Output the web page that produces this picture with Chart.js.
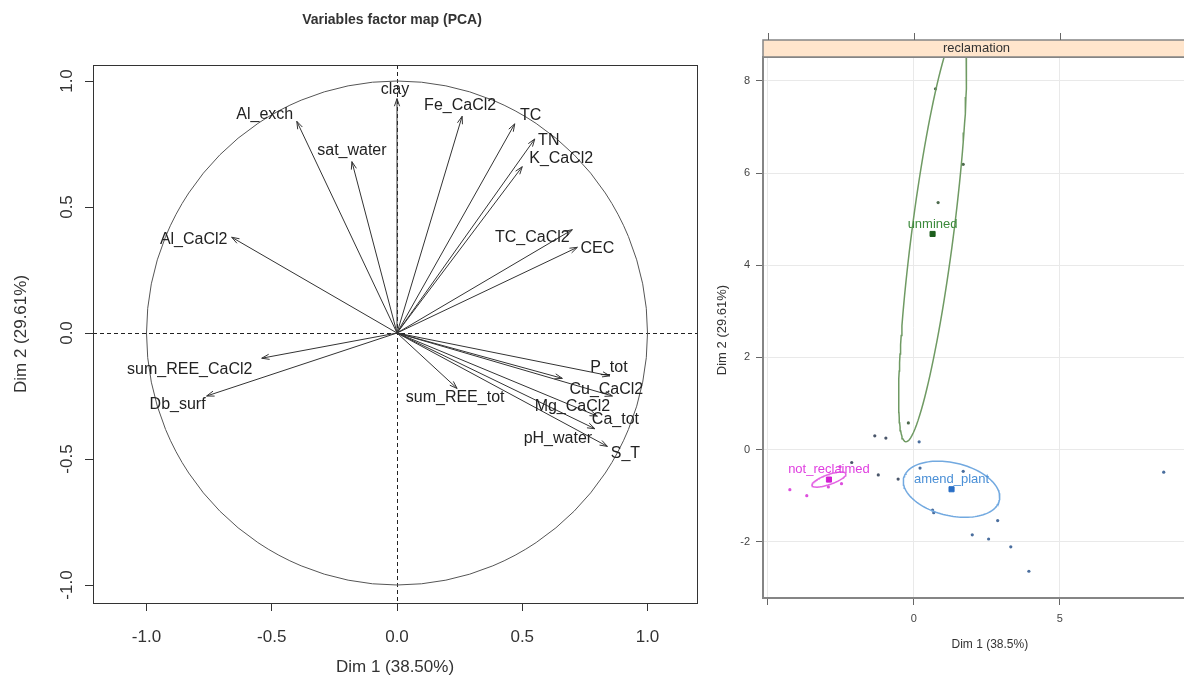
<!DOCTYPE html>
<html><head><meta charset="utf-8">
<script src="https://cdn.jsdelivr.net/npm/chart.js@4/dist/chart.umd.min.js"></script>
<style>
html,body{margin:0;padding:0;background:#fff;overflow:hidden;width:1184px;height:689px}
#wrap{position:relative;width:1184px;height:689px;overflow:hidden;background:#fff}
#c1{position:absolute;left:0;top:0}
#c2{position:absolute;left:700px;top:0}
</style></head><body>
<div id="wrap"><canvas id="c1" width="740" height="689"></canvas><canvas id="c2" width="520" height="689"></canvas></div>
<script>
// ===== Left panel: Variables factor map (PCA) =====
const pcaTitle = 'Variables factor map (PCA)';
const pcaXTitle = 'Dim 1 (38.50%)';
const pcaYTitle = 'Dim 2 (29.61%)';
const varNames = ['clay','Al_exch','sat_water','Fe_CaCl2','TC','TN','K_CaCl2','TC_CaCl2','CEC',
  'Al_CaCl2','sum_REE_CaCl2','Db_surf','sum_REE_tot','P_tot','Cu_CaCl2','Mg_CaCl2','Ca_tot','pH_water','S_T'];
const varDim1 = [0.00,-0.40,-0.18,0.26,0.47,0.55,0.50,0.70,0.72,
  -0.66,-0.54,-0.76,0.24,0.85,0.66,0.86,0.80,0.79,0.84];
const varDim2 = [0.93,0.84,0.68,0.86,0.83,0.77,0.66,0.41,0.34,
  0.38,-0.10,-0.25,-0.22,-0.17,-0.18,-0.25,-0.33,-0.38,-0.45];
const pcaTicks = [-1, -0.5, 0, 0.5, 1];

// label placement (pixel offsets from arrow tip) - layout only
const varLabelOffsets = [[-2,-9],[-32,-7],[0,-11],[-2,-11],[16,-8],[14,2],[39,-8],[-40,8],[20,1],
  [-38,2],[-72,11],[-29,9],[-2,9],[-1,-8],[44,11],[-40,11],[18,3],[-37,10],[18,7]];

// ===== Right panel: individuals by reclamation =====
const stripTitle = 'reclamation';
const indXTitle = 'Dim 1 (38.5%)';
const indYTitle = 'Dim 2 (29.61%)';
const indXTicks = [-5, 0, 5];
const indYTicks = [-2, 0, 2, 4, 6, 8];

const unminedDim1 = [0.74, 1.69, 0.83, -0.19];
const unminedDim2 = [7.83, 6.19, 5.36, 0.58];
const amendDim1 = [0.18, 0.21, 1.69, 0.64, 0.68, 2.87, 2.00, 2.56, 3.32, 3.94, 8.56];
const amendDim2 = [0.17, -0.40, -0.47, -1.31, -1.37, -1.54, -1.85, -1.94, -2.11, -2.64, -0.49];
const notRecDim1 = [-4.25, -3.67, -2.93, -2.48, -2.53];
const notRecDim2 = [-0.87, -1.00, -0.81, -0.74, -0.37];
const otherDim1 = [-1.34, -0.96, -2.13, -1.22, -0.54];
const otherDim2 = [0.30, 0.25, -0.28, -0.55, -0.64];

const groupNames = ['unmined', 'amend_plant', 'not_reclaimed'];
const centroidDim1 = [0.64, 1.29, -2.91];
const centroidDim2 = [4.68, -0.86, -0.65];
// confidence ellipses: half-axis vectors in data units
const ellipseMajor = [[0.92, 4.51], [1.64, -0.24], [0.58, 0.13]];
const ellipseMinor = [[0.71, -0.06], [-0.20, -0.56], [0.06, -0.10]];

const groupColors = ['#3b8a3b', '#4a8fd6', '#e03ee0'];
const centroidColors = ['#1d5e1d', '#2a6fc6', '#d21fd2'];
const ellipseColors = ['#6f9a63', '#72a9e0', '#e466e4'];
const pointColors = ['#4d6a4d', '#4a6e9e', '#dd4fdd', '#4a566a'];

Chart.defaults.font.family = '"Liberation Sans", Arial, Helvetica, sans-serif';

// ---------- left chart ----------
const leftDecor = {
  id: 'leftDecor',
  beforeDatasetsDraw(chart) {
    const {ctx, chartArea: a, scales: {x, y}} = chart;
    const x0 = x.getPixelForValue(0), y0 = y.getPixelForValue(0);
    ctx.save();
    ctx.strokeStyle = '#222'; ctx.lineWidth = 1; ctx.setLineDash([4, 3]);
    ctx.beginPath(); ctx.moveTo(Math.round(x0) + 0.5, a.top); ctx.lineTo(Math.round(x0) + 0.5, a.bottom); ctx.stroke();
    ctx.beginPath(); ctx.moveTo(a.left, Math.round(y0) + 0.5); ctx.lineTo(a.right, Math.round(y0) + 0.5); ctx.stroke();
    ctx.setLineDash([]);
    ctx.strokeStyle = '#555';
    ctx.beginPath();
    ctx.ellipse(x0, y0, x.getPixelForValue(1) - x0, y0 - y.getPixelForValue(1), 0, 0, Math.PI * 2);
    ctx.stroke();
    ctx.restore();
  },
  afterDraw(chart) {
    const {ctx, chartArea: a, scales: {x, y}} = chart;
    ctx.save();
    ctx.strokeStyle = '#333'; ctx.lineWidth = 1;
    ctx.fillStyle = '#222';
    ctx.font = '16px "Liberation Sans", Arial, sans-serif';
    ctx.textAlign = 'center'; ctx.textBaseline = 'middle';
    varNames.forEach((n, i) => {
      const m = chart.getDatasetMeta(i);
      const p0 = m.data[0], p1 = m.data[1];
      const ang = Math.atan2(p1.y - p0.y, p1.x - p0.x);
      const L = 8, h = 0.33;
      ctx.beginPath();
      ctx.moveTo(p1.x - L * Math.cos(ang - h), p1.y - L * Math.sin(ang - h));
      ctx.lineTo(p1.x, p1.y);
      ctx.lineTo(p1.x - L * Math.cos(ang + h), p1.y - L * Math.sin(ang + h));
      ctx.stroke();
      const o = varLabelOffsets[i];
      ctx.fillText(n, p1.x + o[0], p1.y + o[1]);
    });
    ctx.strokeStyle = '#333';
    ctx.strokeRect(Math.round(a.left) + 0.5, Math.round(a.top) + 0.5, Math.round(a.right - a.left), Math.round(a.bottom - a.top));
    ctx.font = '17px "Liberation Sans", Arial, sans-serif';
    ctx.fillStyle = '#333';
    pcaTicks.forEach(v => {
      const py = y.getPixelForValue(v);
      ctx.save(); ctx.translate(a.left - 26, py); ctx.rotate(-Math.PI / 2);
      ctx.fillText(v.toFixed(1), 0, 0); ctx.restore();
    });
    ctx.save(); ctx.translate(21, (a.top + a.bottom) / 2); ctx.rotate(-Math.PI / 2);
    ctx.fillText(pcaYTitle, 0, 0); ctx.restore();
    ctx.fillText(pcaXTitle, (a.left + a.right) / 2, 667);
    ctx.font = 'bold 14px "Liberation Sans", Arial, sans-serif';
    ctx.fillStyle = '#333';
    ctx.fillText(pcaTitle, 392, 20);
    ctx.restore();
  }
};

new Chart(document.getElementById('c1'), {
  type: 'scatter',
  data: {
    datasets: varNames.map((n, i) => ({
      label: n,
      data: [{x: 0, y: 0}, {x: varDim1[i], y: varDim2[i]}],
      showLine: true, borderColor: '#333', borderWidth: 1, pointRadius: 0, tension: 0, fill: false
    }))
  },
  options: {
    responsive: false, animation: false, devicePixelRatio: 1,
    layout: {padding: {left: 63, right: 43, top: 65, bottom: 26}},
    plugins: {legend: {display: false}, tooltip: {enabled: false}},
    scales: {
      x: {
        type: 'linear', min: -1.2136, max: 1.1976,
        afterBuildTicks: s => { s.ticks = pcaTicks.map(v => ({value: v})); },
        afterFit: s => { s.height = 60; },
        grid: {drawOnChartArea: false, drawTicks: true, tickLength: 8, tickColor: '#333', color: '#333'},
        border: {display: false},
        ticks: {font: {size: 17}, color: '#333', padding: 16, maxRotation: 0, minRotation: 0,
          callback: v => Number(v).toFixed(1)}
      },
      y: {
        type: 'linear', min: -1.0714, max: 1.0635,
        afterBuildTicks: s => { s.ticks = pcaTicks.map(v => ({value: v})); },
        afterFit: s => { s.width = 30; },
        grid: {drawOnChartArea: false, drawTicks: true, tickLength: 8, tickColor: '#333', color: '#333'},
        border: {display: false},
        ticks: {display: false}
      }
    }
  },
  plugins: [leftDecor]
});

// ---------- right chart ----------
function ellipsePoints(g) {
  const pts = [];
  const N = 120;
  for (let k = 0; k <= N; k++) {
    const t = 2 * Math.PI * k / N;
    pts.push({
      x: centroidDim1[g] + Math.cos(t) * ellipseMajor[g][0] + Math.sin(t) * ellipseMinor[g][0],
      y: centroidDim2[g] + Math.cos(t) * ellipseMajor[g][1] + Math.sin(t) * ellipseMinor[g][1]
    });
  }
  return pts;
}
const zip = (xs, ys) => xs.map((v, i) => ({x: v, y: ys[i]}));

const rightDatasets = [];
groupNames.forEach((n, g) => {
  rightDatasets.push({label: n + ' ellipse', data: ellipsePoints(g), showLine: true, borderColor: ellipseColors[g],
    borderWidth: 1.5, pointRadius: 0, tension: 0, fill: false});
});
[[unminedDim1, unminedDim2], [amendDim1, amendDim2], [notRecDim1, notRecDim2], [otherDim1, otherDim2]].forEach((d, g) => {
  rightDatasets.push({label: 'points ' + g, data: zip(d[0], d[1]), pointRadius: 1.6, pointBorderWidth: 0,
    backgroundColor: pointColors[g], borderColor: pointColors[g], showLine: false});
});
const centroidStart = rightDatasets.length;
groupNames.forEach((n, g) => {
  rightDatasets.push({label: n, data: [{x: centroidDim1[g], y: centroidDim2[g]}], pointStyle: 'rect',
    pointRadius: 3.6, backgroundColor: centroidColors[g], borderColor: centroidColors[g], showLine: false});
});

const rightDecor = {
  id: 'rightDecor',
  afterDraw(chart) {
    const {ctx, chartArea: a, scales: {x, y}} = chart;
    ctx.save();
    ctx.strokeStyle = '#858585'; ctx.lineWidth = 2;
    ctx.strokeRect(a.left, a.top, a.right - a.left, a.bottom - a.top);
    const sh = 17, sTop = a.top - sh;
    ctx.fillStyle = '#FFE5CC';
    ctx.fillRect(a.left, sTop, a.right - a.left, sh);
    ctx.lineWidth = 1.5;
    ctx.strokeRect(a.left, sTop, a.right - a.left, sh);
    ctx.fillStyle = '#333';
    ctx.font = '13px "Liberation Sans", Arial, sans-serif';
    ctx.textAlign = 'center'; ctx.textBaseline = 'middle';
    ctx.fillText(stripTitle, (a.left + a.right) / 2, sTop + sh / 2);
    ctx.lineWidth = 1; ctx.strokeStyle = '#666';
    indXTicks.forEach(v => {
      const px = Math.round(x.getPixelForValue(v)) + 0.5;
      ctx.beginPath(); ctx.moveTo(px, sTop); ctx.lineTo(px, sTop - 7); ctx.stroke();
    });
    groupNames.forEach((n, g) => {
      const p = chart.getDatasetMeta(centroidStart + g).data[0];
      ctx.fillStyle = groupColors[g];
      ctx.fillText(n, p.x, p.y - 10);
    });
    ctx.fillStyle = '#333';
    ctx.font = '12px "Liberation Sans", Arial, sans-serif';
    ctx.fillText(indXTitle, (x.getPixelForValue(0) + x.getPixelForValue(5)) / 2 + 3, 645);
    ctx.font = '13px "Liberation Sans", Arial, sans-serif';
    ctx.save(); ctx.translate(22, 330); ctx.rotate(-Math.PI / 2);
    ctx.fillText(indYTitle, 0, 0); ctx.restore();
    ctx.restore();
  }
};

new Chart(document.getElementById('c2'), {
  type: 'scatter',
  data: {datasets: rightDatasets},
  options: {
    responsive: false, animation: false, devicePixelRatio: 1,
    layout: {padding: {left: 23, right: 30, top: 57, bottom: 41}},
    plugins: {legend: {display: false}, tooltip: {enabled: false}},
    scales: {
      x: {
        type: 'linear', min: -5.17, max: 9.46,
        afterBuildTicks: s => { s.ticks = indXTicks.map(v => ({value: v})); },
        afterFit: s => { s.height = 50; },
        grid: {color: '#e9e9e9', tickColor: '#666', tickLength: 7, drawTicks: true},
        border: {display: false},
        ticks: {font: {size: 11}, color: '#444', padding: 7, maxRotation: 0,
          callback: v => (v === -5 ? '' : String(v))}
      },
      y: {
        type: 'linear', min: -3.22, max: 8.52,
        afterBuildTicks: s => { s.ticks = indYTicks.map(v => ({value: v})); },
        afterFit: s => { s.width = 40; },
        grid: {color: '#e9e9e9', tickColor: '#666', tickLength: 7, drawTicks: true},
        border: {display: false},
        ticks: {font: {size: 11}, color: '#444', padding: 6, callback: v => String(v)}
      }
    }
  },
  plugins: [rightDecor]
});
</script>
</body></html>
